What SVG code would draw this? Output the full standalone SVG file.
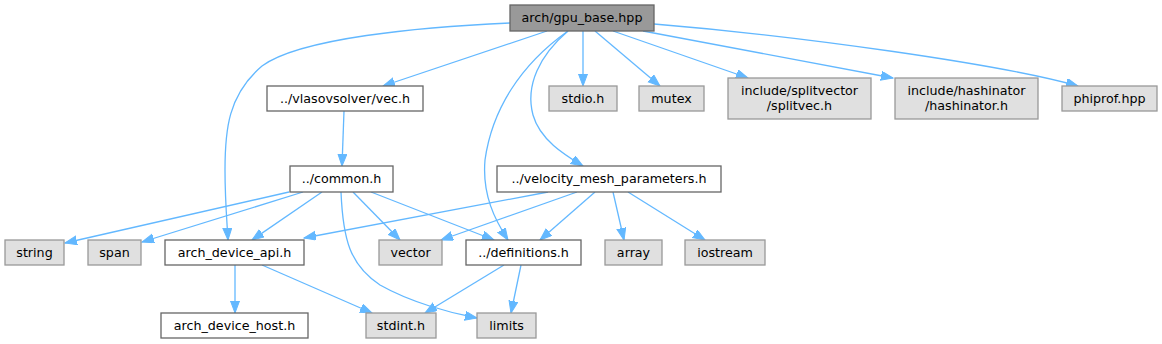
<svg xmlns="http://www.w3.org/2000/svg" width="1162" height="344" viewBox="0 0 1162 344">
<style>
.n rect{fill:#ffffff;stroke:#666666;stroke-width:1.3}
.root rect{fill:#999999;stroke:#666666}
.sys rect{fill:#e0e0e0;stroke:#999999;stroke-width:1.3}
text{font-family:"DejaVu Sans",sans-serif;font-size:12.7px;fill:#000000;text-anchor:middle}
.e path{fill:none;stroke:#63b8ff;stroke-width:1.3;marker-end:url(#ah)}
</style>
<defs>
<marker id="ah" markerUnits="userSpaceOnUse" markerWidth="13" markerHeight="10" refX="12" refY="4.5" orient="auto" viewBox="0 0 13 10">
<path d="M0,0 L12,4.5 L0,9 z" fill="#63b8ff" stroke="#63b8ff" stroke-width="1"/>
</marker>
</defs>
<rect x="0" y="0" width="1162" height="344" fill="#ffffff"/>
<g class="e" id="edges">
<path d="M510,23 C420,27 300,38 262,66 C228,95 225,130 225,170 C225,200 227,222 228,240"/>
<path d="M547,31 L383,86"/>
<path d="M568,31 C520,65 492,110 485,160 C482,195 495,220 508,240"/>
<path d="M568,31 C540,55 525,85 533,115 C540,140 565,155 583,166"/>
<path d="M583,31 L583,86"/>
<path d="M595,31 L660,86"/>
<path d="M613,31 L748,78"/>
<path d="M643,31 L893,78"/>
<path d="M654,24 C800,36 1000,64 1078,86"/>
<path d="M344,111 L342,166"/>
<path d="M289,192 L65,243"/>
<path d="M303,192 L142,242"/>
<path d="M322,192 L252,240"/>
<path d="M353,192 L400,240"/>
<path d="M371,192 L494,240"/>
<path d="M341,192 C343,240 350,265 380,285 C410,302 450,313 477,318"/>
<path d="M548,192 L304,238"/>
<path d="M577,192 L441,240"/>
<path d="M595,192 L540,240"/>
<path d="M613,192 L624,240"/>
<path d="M628,192 L705,240"/>
<path d="M235,265 L235,313"/>
<path d="M262,265 L372,313"/>
<path d="M504,265 L425,313"/>
<path d="M521,265 L511,313"/>
</g>
<g id="root" class="n root"><rect x="510" y="5" width="144" height="26"/><text x="582" y="22">arch/gpu_base.hpp</text></g>
<g id="vec" class="n"><rect x="267" y="86" width="156" height="25"/><text x="345" y="103">../vlasovsolver/vec.h</text></g>
<g id="stdio" class="sys"><rect x="549" y="86" width="68" height="25"/><text x="583" y="103">stdio.h</text></g>
<g id="mutex" class="sys"><rect x="639" y="86" width="65" height="25"/><text x="671.5" y="103">mutex</text></g>
<g id="splitvec" class="sys"><rect x="728" y="78" width="143" height="41"/><text x="799.5" y="95">include/splitvector</text><text x="799.5" y="110">/splitvec.h</text></g>
<g id="hashinator" class="sys"><rect x="895" y="78" width="143" height="41"/><text x="966.5" y="95">include/hashinator</text><text x="966.5" y="110">/hashinator.h</text></g>
<g id="phiprof" class="sys"><rect x="1062" y="86" width="95" height="25"/><text x="1109.5" y="103">phiprof.hpp</text></g>
<g id="common" class="n"><rect x="290" y="166" width="103" height="26"/><text x="341.5" y="183">../common.h</text></g>
<g id="velocity" class="n"><rect x="497" y="166" width="224" height="26"/><text x="609" y="183">../velocity_mesh_parameters.h</text></g>
<g id="string" class="sys"><rect x="5" y="240" width="59" height="25"/><text x="34.5" y="257">string</text></g>
<g id="span" class="sys"><rect x="88" y="240" width="53" height="25"/><text x="114.5" y="257">span</text></g>
<g id="arch_device_api" class="n"><rect x="165" y="240" width="139" height="25"/><text x="234.5" y="257">arch_device_api.h</text></g>
<g id="vector" class="sys"><rect x="379" y="240" width="63" height="25"/><text x="410.5" y="257">vector</text></g>
<g id="definitions" class="n"><rect x="466" y="240" width="115" height="25"/><text x="523.5" y="257">../definitions.h</text></g>
<g id="array" class="sys"><rect x="605" y="240" width="57" height="25"/><text x="633.5" y="257">array</text></g>
<g id="iostream" class="sys"><rect x="685" y="240" width="80" height="25"/><text x="725" y="257">iostream</text></g>
<g id="arch_device_host" class="n"><rect x="161" y="313" width="147" height="25"/><text x="234.5" y="330">arch_device_host.h</text></g>
<g id="stdint" class="sys"><rect x="366" y="313" width="70" height="25"/><text x="401" y="330">stdint.h</text></g>
<g id="limits" class="sys"><rect x="477" y="313" width="59" height="25"/><text x="506.5" y="330">limits</text></g>
</svg>
